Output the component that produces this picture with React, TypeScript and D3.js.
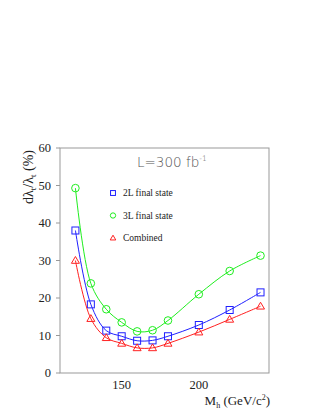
import React from "react";
import * as d3 from "d3";

const masses = [120, 130, 140, 150, 160, 170, 180, 200, 220, 240];
const twoL = [38, 18.3, 11.3, 9.8, 8.6, 8.7, 9.8, 12.8, 16.8, 21.5];
const threeL = [49.3, 23.9, 17, 13.5, 11.1, 11.4, 14, 21, 27.2, 31.3];
const combined = [30, 14.5, 9.4, 7.9, 6.7, 6.7, 7.9, 10.9, 14.3, 17.8];
const yTicks = [0, 10, 20, 30, 40, 50, 60];
const xTicks = [150, 200];
const legendLabels = ["2L final state", "3L final state", "Combined"];

const series = [
  { name: legendLabels[0], values: twoL, color: "#1f1fff", marker: "square" },
  { name: legendLabels[1], values: threeL, color: "#1fee1f", marker: "circle" },
  { name: legendLabels[2], values: combined, color: "#ff2020", marker: "triangle" },
];

const W = 323;
const H = 418;
const left = 60;
const right = 269;
const top = 148;
const bottom = 373;

function Marker({ type, x, y, color, size = 1 }: { type: string; x: number; y: number; color: string; size?: number }) {
  if (type === "square") {
    const h = 3.5 * size;
    return <rect x={x - h} y={y - h} width={2 * h} height={2 * h} fill="none" stroke={color} strokeWidth={1} />;
  }
  if (type === "circle") {
    return <circle cx={x} cy={y} r={3.8 * size} fill="none" stroke={color} strokeWidth={1} />;
  }
  const s = 4 * size;
  return (
    <path
      d={`M${x},${y - s} L${x + s},${y + s * 0.7} L${x - s},${y + s * 0.7} Z`}
      fill="none"
      stroke={color}
      strokeWidth={1}
    />
  );
}

export default function App() {
  const x = d3.scaleLinear().domain([110, 245.5]).range([left, right]);
  const y = d3.scaleLinear().domain([0, 60]).range([bottom, top]);

  const line = d3
    .line<number>()
    .x((d, i) => x(masses[i]))
    .y((d) => y(d))
    .curve(d3.curveCatmullRom.alpha(0.5));

  const serif = { fontFamily: "'Liberation Serif', 'Times New Roman', serif" };

  return (
    <svg width={W} height={H} style={{ position: "absolute", left: 0, top: 0, background: "white" }}>
      <rect x={left} y={top} width={right - left} height={bottom - top} fill="none" stroke="#999" strokeWidth={1} />

      {yTicks.map((t) => (
        <g key={t}>
          <line x1={left - 4} x2={left} y1={y(t)} y2={y(t)} stroke="#999" />
          <text x={left - 9} y={y(t)} dy="0.35em" textAnchor="end" style={serif} fontSize={12.5} fill="#222">
            {t}
          </text>
        </g>
      ))}

      {xTicks.map((t) => (
        <text key={t} x={x(t)} y={389} textAnchor="middle" style={serif} fontSize={12.5} fill="#222">
          {t}
        </text>
      ))}

      <text x={270} y={405} textAnchor="end" style={serif} fontSize={13} fill="#222">
        M
        <tspan fontSize={8} dy={3}>h</tspan>
        <tspan dy={-3}> (GeV/c</tspan>
        <tspan fontSize={8} dy={-5}>2</tspan>
        <tspan dy={5}>)</tspan>
      </text>

      <text
        transform="translate(33,150) rotate(-90)"
        textAnchor="end"
        style={serif}
        fontSize={14}
        fill="#222"
      >
        dλ
        <tspan fontSize={9} dy={3}>t</tspan>
        <tspan dy={-3}>/λ</tspan>
        <tspan fontSize={9} dy={3}>t</tspan>
        <tspan dy={-3}> (%)</tspan>
      </text>

      <text
        x={137}
        y={167}
        style={{ fontFamily: "'DejaVu Sans', sans-serif" }}
        fontWeight={200}
        fontSize={13.5}
        fill="#555"
      >
        L=300 fb
        <tspan fontSize={7.5} dy={-6}>-1</tspan>
      </text>

      {series.map((s, i) => (
        <g key={s.name}>
          <Marker type={s.marker} x={113} y={193 + i * 22.5} color={s.color} size={0.7} />
          <text x={123} y={193 + i * 22.5} dy="0.35em" style={serif} fontSize={9.5} fill="#222">
            {s.name}
          </text>
        </g>
      ))}

      {series.map((s) => (
        <g key={s.name + "-data"}>
          <path d={line(s.values) || ""} fill="none" stroke={s.color} strokeWidth={1} />
          {s.values.map((v, i) => (
            <Marker key={i} type={s.marker} x={x(masses[i])} y={y(v)} color={s.color} />
          ))}
        </g>
      ))}
    </svg>
  );
}
